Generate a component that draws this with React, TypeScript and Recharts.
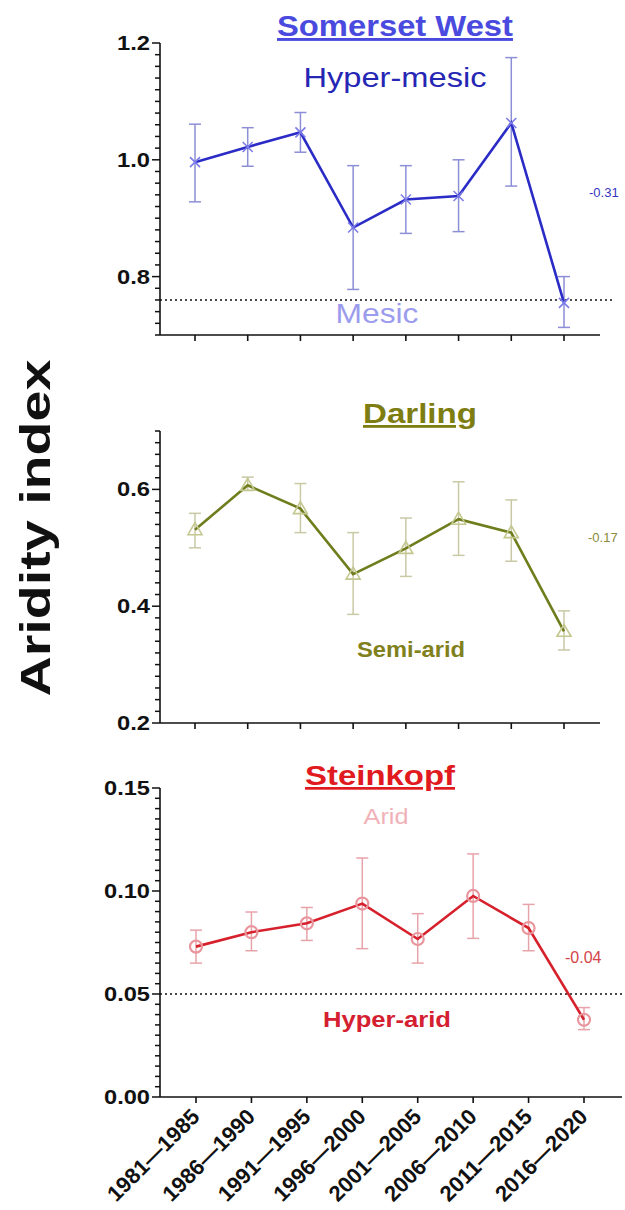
import React from 'react';
import { LineChart, Line, XAxis, YAxis, ErrorBar, ReferenceLine } from 'recharts';

// five-year periods shared by the three stations
const periods = ['1981—1985', '1986—1990', '1991—1995', '1996—2000', '2001—2005', '2006—2010', '2011—2015', '2016—2020'];

// Somerset West
const somersetMean = [0.996, 1.022, 1.047, 0.884, 0.932, 0.938, 1.063, 0.755];
const somersetLow = [0.928, 0.989, 1.013, 0.778, 0.874, 0.877, 0.955, 0.713];
const somersetHigh = [1.061, 1.055, 1.081, 0.99, 0.99, 1.0, 1.175, 0.8];

// Darling
const darlingMean = [0.531, 0.607, 0.567, 0.455, 0.499, 0.549, 0.526, 0.357];
const darlingLow = [0.5, 0.598, 0.526, 0.386, 0.451, 0.487, 0.477, 0.325];
const darlingHigh = [0.559, 0.621, 0.61, 0.526, 0.551, 0.613, 0.582, 0.392];

// Steinkopf
const steinkopfMean = [0.073, 0.08, 0.0843, 0.0939, 0.0767, 0.0976, 0.082, 0.0375];
const steinkopfLow = [0.065, 0.071, 0.076, 0.072, 0.065, 0.077, 0.071, 0.0327];
const steinkopfHigh = [0.081, 0.0898, 0.092, 0.116, 0.089, 0.118, 0.0935, 0.0434];

// class thresholds
const mesicLimit = 0.76;
const hyperAridLimit = 0.05;

const FONT = '"Liberation Sans", Arial, Helvetica, sans-serif';

const toRows = (mean: number[], low: number[], high: number[]) =>
  periods.map((period, i) => ({
    period,
    mean: mean[i],
    err: [mean[i] - low[i], high[i] - mean[i]],
  }));

const range = (from: number, to: number, step: number) => {
  const out: number[] = [];
  const n = Math.round((to - from) / step);
  for (let i = 0; i <= n; i++) out.push(+(from + i * step).toFixed(4));
  return out;
};

const YTick = (props: any) => {
  const { x, y, payload, isMajor, decimals } = props;
  const v = payload.value as number;
  const major = isMajor(v);
  const label = v.toFixed(decimals);
  return (
    <g>
      <line x1={x - (major ? 8 : 5)} x2={x} y1={y} y2={y} stroke="#111" strokeWidth={1.5} />
      {major && (
        <text
          x={x - 10}
          y={y}
          dy={7}
          textAnchor="end"
          fontFamily={FONT}
          fontWeight="bold"
          fontSize={20}
          fill="#111"
          textLength={label.length * 13 - 6}
          lengthAdjust="spacingAndGlyphs"
        >
          {label}
        </text>
      )}
    </g>
  );
};

const XTick = (props: any) => {
  const { x, y, payload } = props;
  const ax = x + 5;
  const ay = y + 13;
  return (
    <text
      x={ax}
      y={ay}
      transform={`rotate(-45 ${ax} ${ay})`}
      textAnchor="end"
      fontFamily={FONT}
      fontWeight="bold"
      fontSize={22}
      fill="#111"
      textLength={120}
      lengthAdjust="spacingAndGlyphs"
    >
      {payload.value}
    </text>
  );
};

const CrossDot = (props: any) => {
  const { cx, cy, index } = props;
  return (
    <g key={index}>
      <line x1={cx - 5} y1={cy - 5} x2={cx + 5} y2={cy + 5} stroke="#7c7ce8" strokeWidth={1.6} />
      <line x1={cx - 5} y1={cy + 5} x2={cx + 5} y2={cy - 5} stroke="#7c7ce8" strokeWidth={1.6} />
    </g>
  );
};

const TriangleDot = (props: any) => {
  const { cx, cy, index } = props;
  return (
    <path
      key={index}
      d={`M${cx},${cy - 7} L${cx + 7},${cy + 5} L${cx - 7},${cy + 5} Z`}
      fill="none"
      stroke="#c4c890"
      strokeWidth={1.6}
    />
  );
};

const CircleDot = (props: any) => {
  const { cx, cy, index } = props;
  return <circle key={index} cx={cx} cy={cy} r={6} fill="none" stroke="#e9959d" strokeWidth={2.2} />;
};

const DottedExtended = (props: any) => {
  const { x1, y1, x2, y2 } = props;
  return <line x1={x1} y1={y1} x2={x2 + 12} y2={y2} stroke="#111" strokeWidth={1.5} strokeDasharray="2 3" />;
};

const axisStroke = { stroke: '#111', strokeWidth: 1.6 };

export default function App() {
  const swRows = toRows(somersetMean, somersetLow, somersetHigh);
  const daRows = toRows(darlingMean, darlingLow, darlingHigh);
  const stRows = toRows(steinkopfMean, steinkopfLow, steinkopfHigh);

  const major20 = (v: number) => Math.round(v * 100) % 20 === 0;
  const major05 = (v: number) => Math.round(v * 1000) % 50 === 0;

  return (
    <div style={{ position: 'absolute', left: 0, top: 0, width: 625, height: 1210, background: '#fff', overflow: 'hidden' }}>
      <div style={{ position: 'absolute', left: 0, top: 0 }}>
        <LineChart width={625} height={345} data={swRows} margin={{ top: 43, right: 25, bottom: 0, left: 0 }}>
          <XAxis
            dataKey="period"
            scale="point"
            padding={{ left: 35, right: 36 }}
            height={10}
            axisLine={axisStroke}
            tickLine={axisStroke}
            tickSize={6}
            interval={0}
            tickFormatter={() => ''}
          />
          <YAxis
            type="number"
            domain={[0.7, 1.2]}
            ticks={range(0.7, 1.2, 0.02)}
            interval={0}
            width={160}
            tickSize={0}
            tickMargin={0}
            tickLine={false}
            axisLine={axisStroke}
            tick={(p: any) => <YTick {...p} isMajor={major20} decimals={1} />}
          />
          <ReferenceLine y={mesicLimit} shape={DottedExtended} />
          <Line dataKey="mean" stroke="#2b2bc6" strokeWidth={2.6} dot={CrossDot} isAnimationActive={false}>
            <ErrorBar dataKey="err" direction="y" width={6} stroke="#8d8fd6" strokeWidth={1.5} />
          </Line>
        </LineChart>
      </div>

      <div style={{ position: 'absolute', left: 0, top: 345 }}>
        <LineChart width={625} height={388} data={daRows} margin={{ top: 86, right: 25, bottom: 0, left: 0 }}>
          <XAxis
            dataKey="period"
            scale="point"
            padding={{ left: 35, right: 36 }}
            height={10}
            axisLine={axisStroke}
            tickLine={axisStroke}
            tickSize={6}
            interval={0}
            tickFormatter={() => ''}
          />
          <YAxis
            type="number"
            domain={[0.2, 0.7]}
            ticks={range(0.2, 0.7, 0.02)}
            interval={0}
            width={160}
            tickSize={0}
            tickMargin={0}
            tickLine={false}
            axisLine={axisStroke}
            tick={(p: any) => <YTick {...p} isMajor={major20} decimals={1} />}
          />
          <Line dataKey="mean" stroke="#6f7d1c" strokeWidth={2.6} dot={TriangleDot} isAnimationActive={false}>
            <ErrorBar dataKey="err" direction="y" width={6} stroke="#c9c9a6" strokeWidth={1.5} />
          </Line>
        </LineChart>
      </div>

      <div style={{ position: 'absolute', left: 0, top: 733 }}>
        <LineChart width={625} height={477} data={stRows} margin={{ top: 55, right: 3, bottom: 0, left: 0 }}>
          <XAxis
            dataKey="period"
            scale="point"
            padding={{ left: 36, right: 38 }}
            height={113}
            axisLine={axisStroke}
            tickLine={axisStroke}
            tickSize={6}
            tickMargin={2}
            interval={0}
            tick={XTick}
          />
          <YAxis
            type="number"
            domain={[0, 0.15]}
            ticks={range(0, 0.15, 0.005)}
            interval={0}
            width={160}
            tickSize={0}
            tickMargin={0}
            tickLine={false}
            axisLine={axisStroke}
            tick={(p: any) => <YTick {...p} isMajor={major05} decimals={2} />}
          />
          <ReferenceLine y={hyperAridLimit} stroke="#111" strokeWidth={1.5} strokeDasharray="2 3" />
          <Line dataKey="mean" stroke="#d6202c" strokeWidth={2.6} dot={CircleDot} isAnimationActive={false}>
            <ErrorBar dataKey="err" direction="y" width={6} stroke="#e7a3aa" strokeWidth={1.5} />
          </Line>
        </LineChart>
      </div>

      <svg width={625} height={1210} style={{ position: 'absolute', left: 0, top: 0, pointerEvents: 'none' }}>
        <text
          transform="translate(50 528) rotate(-90)"
          textAnchor="middle"
          fontFamily={FONT}
          fontWeight="bold"
          fontSize={42}
          fill="#111"
          textLength={337}
          lengthAdjust="spacingAndGlyphs"
        >
          Aridity index
        </text>

        <text x={395} y={36} textAnchor="middle" fontFamily={FONT} fontWeight="bold" fontSize={29} fill="#4a4ade" textDecoration="underline" textLength={236} lengthAdjust="spacingAndGlyphs">
          Somerset West
        </text>
        <text x={395} y={87} textAnchor="middle" fontFamily={FONT} fontSize={28} fill="#2626b4" textLength={183} lengthAdjust="spacingAndGlyphs">
          Hyper-mesic
        </text>
        <text x={377} y={323} textAnchor="middle" fontFamily={FONT} fontSize={28} fill="#9c9cee" textLength={83} lengthAdjust="spacingAndGlyphs">
          Mesic
        </text>
        <text x={589} y={197} fontFamily={FONT} fontSize={13} fill="#3434c0">
          -0.31
        </text>

        <text x={420} y={423} textAnchor="middle" fontFamily={FONT} fontWeight="bold" fontSize={28} fill="#7d7d12" textDecoration="underline" textLength={114} lengthAdjust="spacingAndGlyphs">
          Darling
        </text>
        <text x={411} y={657} textAnchor="middle" fontFamily={FONT} fontWeight="bold" fontSize={22} fill="#80801c" textLength={108} lengthAdjust="spacingAndGlyphs">
          Semi-arid
        </text>
        <text x={588} y={542} fontFamily={FONT} fontSize={13} fill="#8a8a3a">
          -0.17
        </text>

        <text x={380} y={785} textAnchor="middle" fontFamily={FONT} fontWeight="bold" fontSize={27} fill="#e01a1e" textDecoration="underline" textLength={150} lengthAdjust="spacingAndGlyphs">
          Steinkopf
        </text>
        <text x={386} y={824} textAnchor="middle" fontFamily={FONT} fontSize={22} fill="#f0b2b8" textLength={45} lengthAdjust="spacingAndGlyphs">
          Arid
        </text>
        <text x={387} y={1027} textAnchor="middle" fontFamily={FONT} fontWeight="bold" fontSize={22} fill="#d42030" textLength={128} lengthAdjust="spacingAndGlyphs">
          Hyper-arid
        </text>
        <text x={565} y={963} fontFamily={FONT} fontSize={16} fill="#d24448">
          -0.04
        </text>
      </svg>
    </div>
  );
}
